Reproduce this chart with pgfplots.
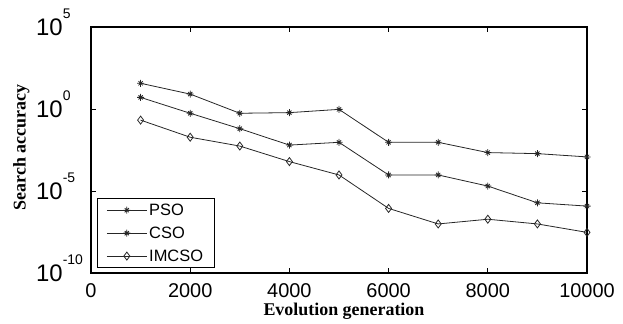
\documentclass[border=0pt]{standalone}
\usepackage{pgfplots}
\pgfplotsset{compat=1.18}
\usepackage{fontspec}
\setmainfont{Liberation Serif}
\newfontfamily\arial{Liberation Sans}
\newcommand{\tenp}[1]{{\fontsize{24}{24}\selectfont 10}\raisebox{17bp}[0pt][0pt]{\fontsize{14}{14}\selectfont #1}}
\pgfdeclareplotmark{star8}{%
  \pgfpathmoveto{\pgfqpoint{0pt}{\pgfplotmarksize}}%
  \pgfpathlineto{\pgfqpoint{0pt}{-\pgfplotmarksize}}%
  \pgfpathmoveto{\pgfqpoint{\pgfplotmarksize}{0pt}}%
  \pgfpathlineto{\pgfqpoint{-\pgfplotmarksize}{0pt}}%
  \pgfpathmoveto{\pgfqpoint{0.6\pgfplotmarksize}{0.6\pgfplotmarksize}}%
  \pgfpathlineto{\pgfqpoint{-0.6\pgfplotmarksize}{-0.6\pgfplotmarksize}}%
  \pgfpathmoveto{\pgfqpoint{0.6\pgfplotmarksize}{-0.6\pgfplotmarksize}}%
  \pgfpathlineto{\pgfqpoint{-0.6\pgfplotmarksize}{0.6\pgfplotmarksize}}%
  \pgfusepathqstroke}
\begin{document}
\begin{tikzpicture}
\begin{axis}[
 scale only axis, width=496bp, height=246bp,
 xmin=0, xmax=10000, ymode=log, ymin=1e-10, ymax=1e5,
 xtick={0,2000,4000,6000,8000,10000},
 xticklabels={0,2000,4000,6000,8000,10000},
 ytick={1e-10,1e-5,1,1e5},
 yticklabels={\tenp{-10},\tenp{-5},\tenp{0},\tenp{5}},
 yminorticks=false, xminorticks=false,
 tick align=inside, major tick length=5bp,
 tick style={black, line width=0.9pt},
 ticklabel style={font=\arial\fontsize{20}{20}\selectfont},
 xticklabel style={yshift=-7bp},
 yticklabel style={anchor=west, inner sep=0pt, xshift=-55bp},
 scaled x ticks=false,
 xlabel={Evolution generation}, ylabel={Search accuracy},
 label style={font=\bfseries\fontsize{18}{18}\selectfont, inner sep=0pt},
 xlabel style={at={(rel axis cs:0.51,0)}, anchor=north, yshift=-30bp},
 ylabel style={at={(rel axis cs:0,0.51)}, anchor=north, yshift=78bp},
 axis line style={line width=1.2pt},
 every axis plot/.append style={line width=0.8pt, black!85},
 legend style={at={(0.012,0.02)}, anchor=south west, draw=black, line width=1pt,
   font=\arial\fontsize{16.5}{16.5}\selectfont, row sep=6bp, inner xsep=9bp, inner ysep=3bp},
 legend cell align=left,
 legend image code/.code={\draw[mark repeat=2,mark phase=2,#1] plot coordinates {(0bp,0bp) (20bp,0bp) (40bp,0bp)};},
]
\coordinate (O) at (rel axis cs:0,0);
\addplot[mark=star8, mark size=3.5bp] coordinates {
(1000,3.7e1) (2000,8.1e0) (3000,5.5e-1) (4000,6.0e-1) (5000,9.5e-1)
(6000,9.3e-3) (7000,9.3e-3) (8000,2.2e-3) (9000,1.9e-3) (10000,1.2e-3)};
\addlegendentry{PSO}
\addplot[mark=star8, mark size=3.5bp] coordinates {
(1000,5.1e0) (2000,5.5e-1) (3000,6.3e-2) (4000,6.3e-3) (5000,9.3e-3)
(6000,9.5e-5) (7000,9.5e-5) (8000,2.0e-5) (9000,1.9e-6) (10000,1.2e-6)};
\addlegendentry{CSO}
\addplot[mark=diamond, mark size=4bp] coordinates {
(1000,2.1e-1) (2000,1.9e-2) (3000,5.5e-3) (4000,6.2e-4) (5000,9.5e-5)
(6000,8.7e-7) (7000,9.8e-8) (8000,1.9e-7) (9000,9.8e-8) (10000,3.0e-8)};
\addlegendentry{IMCSO}
\end{axis}
\pgfresetboundingbox
\path[use as bounding box] ([shift={(-91bp,-51bp)}]O) rectangle ++(623bp,324bp);
\end{tikzpicture}
\end{document}
